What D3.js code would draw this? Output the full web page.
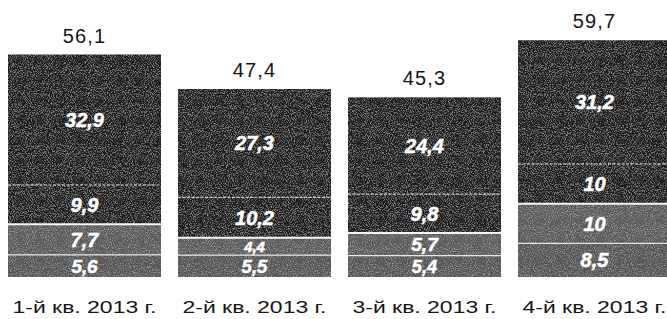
<!DOCTYPE html>
<html>
<head>
<meta charset="utf-8">
<script src="https://cdn.jsdelivr.net/npm/d3@7"></script>
<style>
  html, body { margin: 0; padding: 0; background: #ffffff; }
  svg { display: block; }
</style>
</head>
<body>
<svg id="chart" width="667" height="319"></svg>
<script>
const categories = ["1-й кв. 2013 г.", "2-й кв. 2013 г.", "3-й кв. 2013 г.", "4-й кв. 2013 г."];
const s1 = [5.6, 5.5, 5.4, 8.5];
const s2 = [7.7, 4.4, 5.7, 10];
const s3 = [9.9, 10.2, 9.8, 10];
const s4 = [32.9, 27.3, 24.4, 31.2];
const totals = [56.1, 47.4, 45.3, 59.7];
const seriesKeys = ["s1", "s2", "s3", "s4"];

const rows = categories.map((c, i) => ({ cat: c, s1: s1[i], s2: s2[i], s3: s3[i], s4: s4[i], total: totals[i] }));

const svg = d3.select("#chart");

const x = d3.scaleBand().domain(categories).range([-0.5, 679.5]).paddingInner(0.1).paddingOuter(0.05);
const y = d3.scaleLinear().domain([0, 56.1]).range([277, 54.5]);

const fmt = v => d3.format("")(v).replace(".", ",");

const defs = svg.append("defs");
const f = defs.append("filter").attr("id", "grain").attr("x", 0).attr("y", 0).attr("width", 1).attr("height", 1);
f.append("feTurbulence").attr("type", "fractalNoise").attr("baseFrequency", "0.95").attr("numOctaves", 2).attr("seed", 7).attr("result", "noise");
f.append("feColorMatrix").attr("in", "noise").attr("type", "matrix")
  .attr("values", "0 0 0 0 1  0 0 0 0 1  0 0 0 0 1  2.2 0 0 0 -1.05").attr("result", "speck");
const ct = f.append("feComponentTransfer").attr("in", "speck").attr("result", "speckSoft");
ct.append("feFuncA").attr("type", "linear").attr("slope", 0.4);
f.append("feComposite").attr("in", "speckSoft").attr("in2", "SourceGraphic").attr("operator", "in").attr("result", "speckIn");
const fm = f.append("feMerge");
fm.append("feMergeNode").attr("in", "SourceGraphic");
fm.append("feMergeNode").attr("in", "speckIn");

const colors = { s1: "#555555", s2: "#5a5a5a", s3: "#1d1d1d", s4: "#1b1b1b" };

const stacked = d3.stack().keys(seriesKeys)(rows);

const layers = svg.append("g").attr("filter", "url(#grain)");
layers.selectAll("g.layer").data(stacked).join("g").attr("class", "layer")
  .attr("fill", d => colors[d.key])
  .selectAll("rect").data(d => d).join("rect")
  .attr("x", d => x(d.data.cat))
  .attr("y", d => y(d[1]))
  .attr("width", x.bandwidth())
  .attr("height", d => y(d[0]) - y(d[1]));

// separator lines
const sepStyles = {
  s1: { w: 1.2, dash: null, op: 0.8 },
  s2: { w: 2, dash: null, op: 0.95 },
  s3: { w: 1, dash: "3,1.5", op: 0.85 }
};
stacked.slice(0, 3).forEach(layer => {
  const st = sepStyles[layer.key];
  svg.append("g").selectAll("line").data(layer).join("line")
    .attr("x1", d => x(d.data.cat))
    .attr("x2", d => x(d.data.cat) + x.bandwidth())
    .attr("y1", d => y(d[1]))
    .attr("y2", d => y(d[1]))
    .attr("stroke", "#ffffff")
    .attr("stroke-width", st.w)
    .attr("stroke-opacity", st.op)
    .attr("stroke-dasharray", st.dash);
});

// segment labels (shrink in thin segments so they stay inside)
stacked.forEach(layer => {
  svg.append("g").selectAll("text").data(layer).join("text")
    .attr("x", d => x(d.data.cat) + x.bandwidth() / 2)
    .attr("y", d => (y(d[0]) + y(d[1])) / 2)
    .attr("dy", "0.36em")
    .attr("text-anchor", "middle")
    .attr("font-family", "Liberation Sans, Arial, sans-serif")
    .attr("font-weight", "bold")
    .attr("font-style", "italic")
    .attr("font-size", d => Math.min(20, (y(d[0]) - y(d[1])) * 0.85))
    .attr("fill", "#ffffff")
    .attr("stroke", "#ffffff")
    .attr("stroke-width", 0.5)
    .text(d => fmt(d.data[layer.key]));
});

// totals
svg.append("g").selectAll("text").data(rows).join("text")
  .attr("x", d => x(d.cat) + x.bandwidth() / 2)
  .attr("y", d => y(d.total) - 12)
  .attr("text-anchor", "middle")
  .attr("font-family", "Liberation Sans, Arial, sans-serif")
  .attr("font-size", 20)
  .attr("letter-spacing", 1.2)
  .attr("fill", "#151515")
  .text(d => fmt(d.total));

// category axis labels
const xAxis = d3.axisBottom(x).tickSize(0).tickPadding(0);
const ax = svg.append("g").attr("transform", "translate(0,301)").call(xAxis);
ax.select(".domain").remove();
ax.selectAll("text")
  .attr("font-family", "Liberation Sans, Arial, sans-serif")
  .attr("font-size", 17)
  .attr("fill", "#151515")
  .attr("textLength", 144)
  .attr("lengthAdjust", "spacingAndGlyphs")
  .attr("x", -72)
  .attr("text-anchor", "start");
</script>
</body>
</html>
